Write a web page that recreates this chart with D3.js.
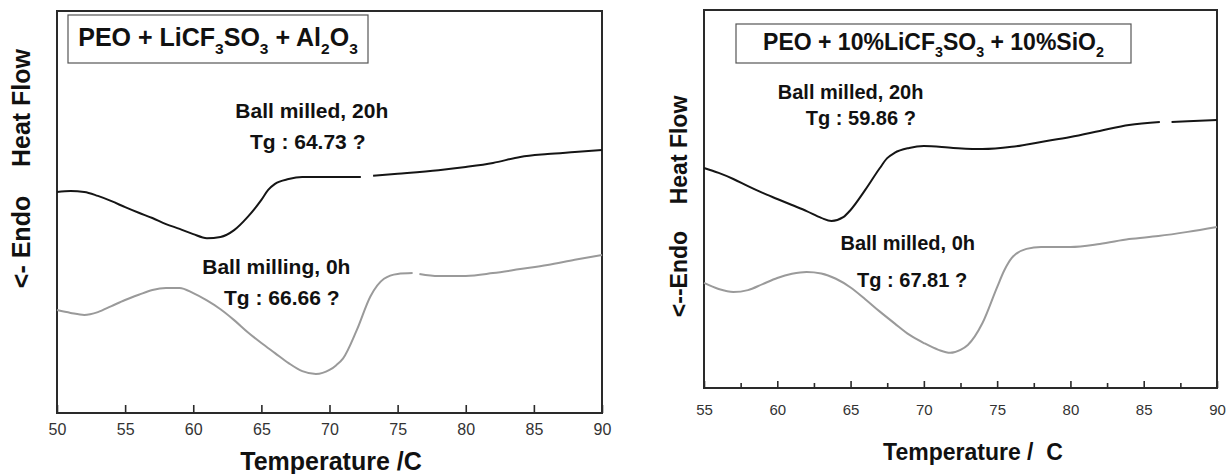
<!DOCTYPE html>
<html><head><meta charset="utf-8">
<script src="https://cdn.jsdelivr.net/npm/d3@7"></script>
<style>
body{margin:0;background:#fff;}
text{font-family:"Liberation Sans",Arial,sans-serif;}
</style></head>
<body>
<svg id="chart" width="1226" height="474"></svg>
<script>
// ---------- DATA ----------
// Left panel: PEO + LiCF3SO3 + Al2O3   (x = temperature °C, y = heat flow, arbitrary units)
const leftTemp20h = [50,51,52,53,54,55,56,57,58,59,60,61,62,63,64,65,65.5,66,67,68,70,72.3,null,73.2,75,78,80,82,84,86,88,90];
const leftFlow20h = [55.0,55.2,55.0,54.0,52.7,51.2,49.8,48.5,47.0,45.8,44.5,43.5,43.8,45.5,48.8,53.0,55.5,57.0,58.2,58.7,58.7,58.7,null,59.0,59.5,60.4,61.2,62.2,63.7,64.4,64.9,65.4];
const leftTemp0h = [50,51,52,53,54,55,56,57,58,59,60,61,62,63,64,65,66,67,68,69,70,70.5,71,72,73,74,75,76.1,null,76.6,78,80,82,84,86,88,90];
const leftFlow0h = [25.6,24.9,24.4,25.1,26.6,28.1,29.4,30.6,31.1,31.1,29.8,28.0,25.8,23.1,20.1,17.4,14.9,12.4,10.4,9.7,10.7,11.9,13.6,20.6,29.0,33.4,34.6,34.8,null,34.6,34.1,34.1,34.8,35.8,36.8,38.1,39.3];
const leftTicks = [50,55,60,65,70,75,80,85,90];

// Right panel: PEO + 10%LiCF3SO3 + 10%SiO2
const rightTemp20h = [55,56,57,58,59,60,61,62,63,63.7,64.5,65,66,67,67.5,68,69,70,72,74,76,78,80,82,84,86.1,null,86.9,88,90];
const rightFlow20h = [58.2,56.9,55.3,53.4,51.6,50.0,48.4,46.8,45.0,44.2,45.2,47.1,52.4,58.2,60.8,62.2,63.5,64.0,63.5,63.2,63.8,65.1,66.4,68.0,69.6,70.4,null,70.4,70.6,70.9];
const rightTemp0h = [55,56,57,58,59,60,61,62,63,64,65,66,67,68,69,70,71,71.8,72.5,73,74,75,75.5,76,77,78,80,82,84,86,88,90];
const rightFlow0h = [27.8,26.2,25.4,25.9,27.5,29.1,30.2,30.7,30.3,28.9,26.6,23.5,20.2,17.1,14.1,11.9,10.1,9.3,10.1,11.4,17.2,26.7,31.2,34.4,36.8,37.3,37.3,38.1,39.4,40.2,41.3,42.6];
const rightTicks = [55,60,65,70,75,80,85,90];
const rightMinorTicks = [57.5,62.5,67.5,72.5,77.5,82.5,87.5];

const leftNotes = ["Ball milled, 20h","Tg : 64.73 ?","Ball milling, 0h","Tg : 66.66 ?"];
const rightNotes = ["Ball milled, 20h","Tg : 59.86 ?","Ball milled, 0h","Tg : 67.81 ?"];

// ---------- DRAW ----------
const svg = d3.select("#chart");
const black = "#151515", gray = "#9a9a9a", frame = "#2a2a2a";

function zip(xs, ys){ return xs.map((x,i)=>({x:x, y:ys[i]})); }

function panel(cfg){
  const g = svg.append("g");
  const x = d3.scaleLinear().domain(cfg.xDomain).range([cfg.left, cfg.right]);
  const y = d3.scaleLinear().domain([0,100]).range([cfg.bottom, cfg.top]);

  // axis
  const ax = d3.axisBottom(x).tickValues(cfg.ticks).tickFormat(d3.format("d"))
    .tickSizeInner(-cfg.tickLen).tickSizeOuter(0).tickPadding(cfg.pad);
  const axg = g.append("g").attr("transform",`translate(0,${cfg.bottom})`).call(ax);
  axg.select(".domain").remove();
  axg.selectAll(".tick line").attr("stroke",frame).attr("stroke-width",1.6);
  axg.selectAll(".tick text").attr("font-size",cfg.tickFont).attr("fill","#333")
     .style("font-family","'Liberation Sans',Arial,sans-serif");
  if(cfg.minor){
    const mx = d3.axisBottom(x).tickValues(cfg.minor).tickFormat("").tickSizeInner(-cfg.tickLen+2).tickSizeOuter(0);
    const mg = g.append("g").attr("transform",`translate(0,${cfg.bottom})`).call(mx);
    mg.select(".domain").remove();
    mg.selectAll(".tick line").attr("stroke",frame).attr("stroke-width",1.6);
  }
  // frame
  g.append("rect").attr("x",cfg.left).attr("y",cfg.top)
    .attr("width",cfg.right-cfg.left).attr("height",cfg.bottom-cfg.top)
    .attr("fill","none").attr("stroke",frame).attr("stroke-width",2);

  const line = d3.line().defined(d=>d.x!==null && d.y!==null)
    .x(d=>x(d.x)).y(d=>y(d.y)).curve(d3.curveMonotoneX);
  g.append("path").datum(zip(cfg.t0,cfg.f0)).attr("d",line)
    .attr("fill","none").attr("stroke",gray).attr("stroke-width",2);
  g.append("path").datum(zip(cfg.t20,cfg.f20)).attr("d",line)
    .attr("fill","none").attr("stroke",black).attr("stroke-width",2);

  // title box
  const tb = cfg.titleBox;
  g.append("rect").attr("x",tb[0]).attr("y",tb[1]).attr("width",tb[2]).attr("height",tb[3])
    .attr("fill","#fff").attr("stroke","#555").attr("stroke-width",1.2);
  const tt = g.append("text").attr("x",tb[0]+tb[2]/2).attr("y",cfg.titleBase)
    .attr("text-anchor","middle").attr("font-weight","bold").attr("font-size",cfg.titleFont).attr("fill","#111");
  cfg.title.forEach(p=>{
    const s = tt.append("tspan").text(p[0]);
    if(p[1]){ s.attr("font-size",cfg.titleFont*0.62).attr("dy",cfg.titleFont*0.3); }
    else if(p[2]){ s.attr("dy",-cfg.titleFont*0.3); }
  });

  // notes
  cfg.notePos.forEach((p,i)=>{
    g.append("text").attr("x",x(p[0])).attr("y",y(p[1])).attr("text-anchor","middle")
      .attr("dy","0.35em").attr("font-weight","bold").attr("font-size",cfg.noteFont).attr("fill","#111")
      .text(cfg.notes[i]);
  });

  // axis titles
  g.append("text").attr("x",cfg.xTitle[0]).attr("y",cfg.xTitle[1]).attr("text-anchor","middle")
    .attr("dy","0.35em").attr("font-weight","bold").attr("font-size",cfg.axisFont).attr("fill","#111")
    .style("white-space","pre").text(cfg.xLabel);
  cfg.yLabels.forEach(l=>{
    g.append("text").attr("transform",`translate(${l[1]},${l[2]}) rotate(-90)`)
      .attr("text-anchor","middle").attr("dy","0.35em").attr("font-weight","bold")
      .attr("font-size",cfg.axisFont).attr("fill","#111").text(l[0]);
  });
}

panel({
  xDomain:[50,90], left:57, right:602, top:11, bottom:413,
  ticks:leftTicks, tickLen:8, pad:11, tickFont:16,
  t20:leftTemp20h, f20:leftFlow20h, t0:leftTemp0h, f0:leftFlow0h,
  titleBox:[68,15,300,48], titleBase:46, titleFont:25,
  title:[["PEO + LiCF"],["3",true],["SO",false,true],["3",true],[" + Al",false,true],["2",true],["O",false,true],["3",true]],
  notes:leftNotes, notePos:[[68.7,75.3],[68.4,67.4],[66.1,36.3],[66.5,28.8]], noteFont:21,
  xLabel:"Temperature /C", xTitle:[331,461], axisFont:25,
  yLabels:[["Heat Flow",21,108],["<- Endo",21,242]]
});

panel({
  xDomain:[55,90], left:704, right:1217, top:10, bottom:388,
  ticks:rightTicks, minor:rightMinorTicks, tickLen:7, pad:16, tickFont:15,
  t20:rightTemp20h, f20:rightFlow20h, t0:rightTemp0h, f0:rightFlow0h,
  titleBox:[736,24,395,39], titleBase:50, titleFont:23,
  title:[["PEO + 10%LiCF"],["3",true],["SO",false,true],["3",true],[" + 10%SiO",false,true],["2",true]],
  notes:rightNotes, notePos:[[65.0,78.3],[65.7,71.4],[68.9,38.4],[69.2,28.6]], noteFont:20,
  xLabel:"Temperature /  C", xTitle:[973,452], axisFont:23,
  yLabels:[["Heat Flow",679,150],["<--Endo",679,274]]
});
</script>
</body></html>
